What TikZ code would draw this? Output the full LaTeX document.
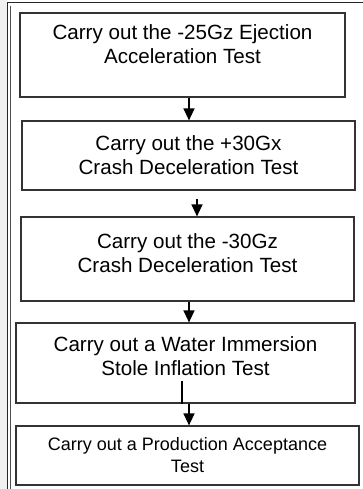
\documentclass[tikz,border=0pt]{standalone}
\usepackage{fontspec}
\setmainfont{Liberation Sans}
\usetikzlibrary{arrows.meta}

\begin{document}
\begin{tikzpicture}[x=1pt,y=-1pt,
  stepbox/.style={draw=black!80,line width=1.2pt,fill=white,align=center,inner sep=0pt,
    font=\fontsize{20.6}{24}\selectfont},
  arr/.style={line width=1.3pt,-{Triangle[width=11pt,length=12pt]}}]
\useasboundingbox (0,0) rectangle (363,489);
\fill[black!6] (0,0) rectangle (6.5,489);
\draw[line width=1pt,black!85] (7.5,489) -- (7.5,3) -- (363,3);
\draw[line width=0.8pt,black!70] (10,6) -- (10,489);

\node[stepbox,minimum width=325pt,minimum height=84pt,text depth=21pt] (s1) at (182.5,55)
  {Carry out the -25Gz Ejection\\Acceleration Test};
\node[stepbox,minimum width=333pt,minimum height=69pt] (s2) at (188.5,155.5)
  {Carry out the +30Gx\\Crash Deceleration Test};
\node[stepbox,minimum width=333pt,minimum height=84pt,text depth=12pt] (s3) at (187.5,259)
  {Carry out the -30Gz\\Crash Deceleration Test};
\node[stepbox,minimum width=339pt,minimum height=80pt,text depth=14pt] (s4) at (185.5,363)
  {Carry out a Water Immersion\\Stole Inflation Test};
\node[stepbox,minimum width=343pt,minimum height=59pt,font=\fontsize{18}{22}\selectfont] (s5) at (187.5,455.5)
  {Carry out a Production Acceptance\\Test};

\draw[arr] ([xshift=6.5pt]s1.south) -- ([xshift=6.5pt]s1.south |- s2.north);
\draw[arr] ([xshift=8.5pt,yshift=-8pt]s2.south) -- ([xshift=8.5pt]s2.south |- s3.north);
\draw[arr] ([xshift=1.5pt]s3.south) -- ([xshift=1.5pt]s3.south |- s4.north);
\draw[line width=1.3pt] ([xshift=-3.5pt,yshift=23pt]s4.south) -- ([xshift=-3.5pt]s4.south);
\draw[arr] ([xshift=3.5pt]s4.south) -- ([xshift=3.5pt]s4.south |- s5.north);
\end{tikzpicture}
\end{document}
